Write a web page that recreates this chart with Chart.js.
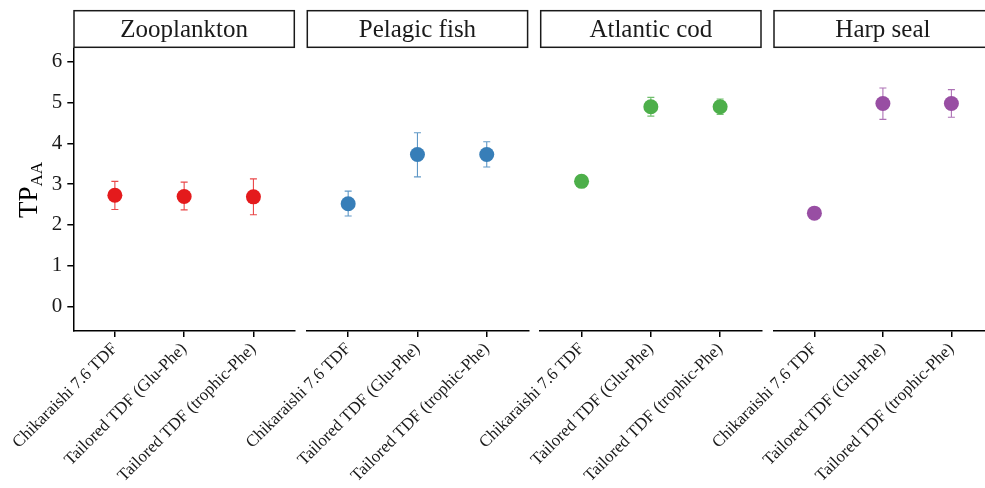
<!DOCTYPE html>
<html>
<head>
<meta charset="utf-8">
<script src="https://cdn.jsdelivr.net/npm/chart.js@4.4.1/dist/chart.umd.min.js"></script>
<style>
  html, body { margin: 0; padding: 0; overflow: hidden; background: #fff; }
  #wrap { position: relative; width: 985px; height: 488px; overflow: hidden; }
  .panel { position: absolute; left: 0; top: 0; width: 1000px; height: 488px; }
</style>
</head>
<body>
<div id="wrap">
  <div class="panel"><canvas id="c0"></canvas></div>
  <div class="panel"><canvas id="c1"></canvas></div>
  <div class="panel"><canvas id="c2"></canvas></div>
  <div class="panel"><canvas id="c3"></canvas></div>
</div>
<script>
// data
const panels = ['Zooplankton', 'Pelagic fish', 'Atlantic cod', 'Harp seal'];
const methods = ['Chikaraishi 7.6 TDF', 'Tailored TDF (Glu-Phe)', 'Tailored TDF (trophic-Phe)'];
const colors = ['#E41A1C', '#377EB8', '#4DAF4A', '#984EA3'];
const barColors = ['rgba(228,26,28,0.8)', 'rgba(55,126,184,0.8)', 'rgba(77,175,74,0.8)', 'rgba(152,78,163,0.8)'];
const tpMean = [[2.73, 2.70, 2.69], [2.52, 3.73, 3.73], [3.07, 4.90, 4.90], [2.29, 4.98, 4.98]];
const tpLow  = [[2.38, 2.37, 2.25], [2.22, 3.18, 3.42], [null, 4.67, 4.71], [null, 4.59, 4.64]];
const tpHigh = [[3.07, 3.05, 3.13], [2.83, 4.26, 4.04], [null, 5.13, 5.09], [null, 5.36, 5.32]];
const yTicks = [0, 1, 2, 3, 4, 5, 6];

// layout
const CANVAS_W = 1000;
const panelLeft = [73.3, 306.6, 540, 773.3];
const panelWidth = 221.7;
const plotTop = 48;
const plotBottom = 331;
const stripTop = 10;
const serif = "'Liberation Serif', 'Times New Roman', serif";

const errorBars = {
    id: 'errorBars',
    beforeDatasetsDraw(chart, args, opts) {
        const ctx = chart.ctx;
        const xs = chart.scales.x, ys = chart.scales.y;
        const p = opts.panel;
        ctx.save();
        ctx.strokeStyle = barColors[p];
        ctx.lineWidth = 1.1;
        tpMean[p].forEach((m, i) => {
            if (tpLow[p][i] == null) return;
            const x = xs.getPixelForValue(i + 1);
            const y1 = ys.getPixelForValue(tpLow[p][i]);
            const y2 = ys.getPixelForValue(tpHigh[p][i]);
            ctx.beginPath();
            ctx.moveTo(x, y1); ctx.lineTo(x, y2);
            ctx.moveTo(x - 3.5, y1); ctx.lineTo(x + 3.5, y1);
            ctx.moveTo(x - 3.5, y2); ctx.lineTo(x + 3.5, y2);
            ctx.stroke();
        });
        ctx.restore();
    }
};

const strip = {
    id: 'strip',
    afterDraw(chart, args, opts) {
        const ctx = chart.ctx;
        const a = chart.chartArea;
        ctx.save();
        ctx.fillStyle = '#fff';
        ctx.fillRect(a.left, stripTop, a.right - a.left, a.top - stripTop);
        ctx.strokeStyle = '#1a1a1a';
        ctx.lineWidth = 1.5;
        ctx.strokeRect(a.left + 0.7, stripTop + 0.7, a.right - a.left - 1.4, a.top - stripTop - 1.4);
        ctx.fillStyle = '#1a1a1a';
        ctx.font = '25px ' + serif;
        ctx.textAlign = 'center';
        ctx.textBaseline = 'middle';
        ctx.fillText(panels[opts.panel], (a.left + a.right) / 2, (stripTop + a.top) / 2 + 1);
        ctx.restore();
    }
};

const yTitle = {
    id: 'yTitle',
    afterDraw(chart) {
        if (chart.options.plugins.strip.panel !== 0) return;
        const ctx = chart.ctx;
        ctx.save();
        ctx.translate(37, 218);
        ctx.rotate(-Math.PI / 2);
        ctx.fillStyle = '#000';
        ctx.textAlign = 'left';
        ctx.textBaseline = 'alphabetic';
        ctx.font = '27px ' + serif;
        ctx.fillText('TP', 0, 0);
        const w = ctx.measureText('TP').width;
        ctx.font = '17px ' + serif;
        ctx.fillText('AA', w, 5);
        ctx.restore();
    }
};

function makePanel(p) {
    const first = p === 0;
    const ctx = document.getElementById('c' + p);
    return new Chart(ctx, {
        type: 'scatter',
        data: {
            datasets: [{
                data: tpMean[p].map((v, i) => ({ x: i + 1, y: v })),
                backgroundColor: colors[p],
                borderWidth: 0,
                pointRadius: 7.5,
                pointHoverRadius: 7.5
            }]
        },
        options: {
            responsive: true,
            maintainAspectRatio: false,
            animation: false,
            events: [],
            layout: {
                padding: {
                    left: first ? 0 : panelLeft[p],
                    right: CANVAS_W - panelLeft[p] - panelWidth,
                    top: plotTop,
                    bottom: 0
                }
            },
            plugins: {
                legend: { display: false },
                tooltip: { enabled: false },
                errorBars: { panel: p },
                strip: { panel: p }
            },
            scales: {
                x: {
                    type: 'linear',
                    min: 0.4,
                    max: 3.6,
                    afterBuildTicks: s => { s.ticks = methods.map((m, i) => ({ value: i + 1 })); },
                    afterFit: s => {
                        s.height = 488 - plotBottom;
                        s.paddingLeft = 0;
                        s.paddingRight = 0;
                    },
                    border: { display: true, color: '#000', width: 1.5 },
                    grid: { display: true, drawOnChartArea: false, drawTicks: true, tickLength: 6, color: '#000', lineWidth: 1.5 },
                    ticks: {
                        autoSkip: false,
                        maxRotation: 45,
                        minRotation: 45,
                        padding: 2,
                        color: '#1a1a1a',
                        font: { family: serif, size: 17 },
                        callback: v => methods[v - 1]
                    }
                },
                y: {
                    display: first,
                    min: -0.6,
                    max: 6.34,
                    afterBuildTicks: s => { s.ticks = yTicks.map(v => ({ value: v })); },
                    afterFit: s => {
                        if (first) s.width = panelLeft[0];
                        s.paddingTop = 0;
                        s.paddingBottom = 0;
                    },
                    border: { display: true, color: '#000', width: 1.5 },
                    grid: { display: true, drawOnChartArea: false, drawTicks: true, tickLength: 6, color: '#000', lineWidth: 1.5 },
                    ticks: {
                        padding: 5,
                        color: '#1a1a1a',
                        font: { family: serif, size: 21 }
                    }
                }
            }
        },
        plugins: [errorBars, strip, yTitle]
    });
}

panels.forEach((name, p) => makePanel(p));
</script>
</body>
</html>
